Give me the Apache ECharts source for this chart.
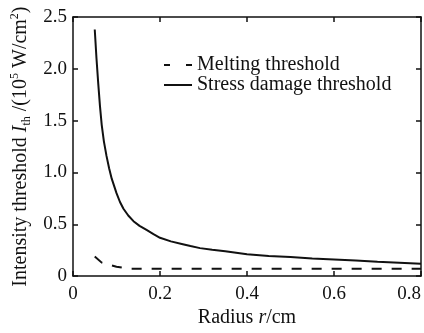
<!DOCTYPE html>
<html>
<head>
<meta charset="utf-8">
<script src="https://cdn.jsdelivr.net/npm/echarts@6/dist/echarts.min.js"></script>
<style>
html,body{margin:0;padding:0;background:#fff;}
#c{width:424px;height:333px;}
</style>
</head>
<body>
<div id="c"></div>
<script>
// Data
var seriesNames = ['Melting threshold', 'Stress damage threshold'];
var meltR = [0.05, 0.066, 0.1, 0.13, 0.2, 0.3, 0.4, 0.5, 0.6, 0.7, 0.8];
var meltI = [0.19, 0.13, 0.09, 0.07, 0.07, 0.07, 0.07, 0.07, 0.07, 0.07, 0.07];
var stressR = [0.05, 0.054, 0.058, 0.062, 0.066, 0.071, 0.077, 0.083, 0.089, 0.1, 0.108, 0.116, 0.127, 0.139, 0.153, 0.169, 0.185, 0.2, 0.225, 0.25, 0.27, 0.292, 0.32, 0.35, 0.4, 0.45, 0.5, 0.55, 0.6, 0.65, 0.7, 0.75, 0.8];
var stressI = [2.38, 2.1, 1.86, 1.64, 1.46, 1.3, 1.16, 1.04, 0.94, 0.8, 0.715, 0.65, 0.585, 0.53, 0.485, 0.445, 0.405, 0.37, 0.335, 0.31, 0.29, 0.27, 0.255, 0.24, 0.21, 0.195, 0.185, 0.17, 0.16, 0.15, 0.138, 0.13, 0.12];
var xTicks = [0, 0.2, 0.4, 0.6, 0.8];
var yTicks = [0, 0.5, 1.0, 1.5, 2.0, 2.5];

function pairs(xs, ys) { return xs.map(function (x, i) { return [x, ys[i]]; }); }
function fmt(v) { return v === 0 ? '0' : v.toFixed(1); }

var FONT = "'Liberation Serif','Times New Roman',serif";
var lineCol = '#111';
var axisLineStyle = { color: lineCol, width: 1.5 };

function xAx(pos, show) {
  return {
    type: 'value', position: pos, min: xTicks[0], max: xTicks[xTicks.length - 1],
    interval: xTicks[1] - xTicks[0],
    axisLine: { show: true, onZero: false, lineStyle: axisLineStyle },
    axisTick: { show: true, inside: true, length: 5, lineStyle: { color: lineCol, width: 1.5 } },
    axisLabel: { show: show, color: '#111', fontFamily: FONT, fontSize: 19, margin: 8,
      formatter: fmt, alignMaxLabel: 'right' },
    splitLine: { show: false }
  };
}
function yAx(pos, show) {
  return {
    type: 'value', position: pos, min: yTicks[0], max: yTicks[yTicks.length - 1],
    interval: yTicks[1] - yTicks[0],
    axisLine: { show: true, onZero: false, lineStyle: axisLineStyle },
    axisTick: { show: true, inside: true, length: 5, lineStyle: { color: lineCol, width: 1.5 } },
    axisLabel: { show: show, color: '#111', fontFamily: FONT, fontSize: 19, margin: 6, formatter: fmt },
    splitLine: { show: false }
  };
}

var xb = xAx('bottom', true);
xb.name = '{n|Radius }{i|r}{n|/cm}';
xb.nameLocation = 'middle';
xb.nameGap = 26;
xb.nameTextStyle = { rich: {
  n: { fontFamily: FONT, fontSize: 20, color: '#111' },
  i: { fontFamily: FONT, fontSize: 20, fontStyle: 'italic', color: '#111' }
} };

var yl = yAx('left', true);
yl.name = '{n|Intensity threshold }{i|I}{sub|th}{n| /(10}{sup|5}{n| W/cm}{sup|2}{n|)}';
yl.nameLocation = 'middle';
yl.nameGap = 40;
yl.nameTextStyle = { rich: {
  n: { fontFamily: FONT, fontSize: 20, color: '#111', lineHeight: 24, verticalAlign: 'middle' },
  i: { fontFamily: FONT, fontSize: 20, fontStyle: 'italic', color: '#111', lineHeight: 24, verticalAlign: 'middle' },
  sub: { fontFamily: FONT, fontSize: 12, color: '#111', verticalAlign: 'bottom', lineHeight: 12 },
  sup: { fontFamily: FONT, fontSize: 12, color: '#111', verticalAlign: 'top', lineHeight: 12 }
} };

var option = {
  animation: false,
  backgroundColor: '#fff',
  grid: { left: 73, right: 3, top: 17, bottom: 44 },
  legend: {
    orient: 'vertical', left: 159, top: 50, itemWidth: 28, itemHeight: 2, itemGap: 0,
    data: [
      { name: seriesNames[0], icon: 'path://M0,0H6V2H0Z M22,0H28V2H22Z' },
      { name: seriesNames[1], icon: 'path://M0,0H28V2H0Z' }
    ],
    textStyle: { fontFamily: FONT, fontSize: 20, color: '#111', lineHeight: 20 }
  },
  xAxis: [xb, xAx('top', false)],
  yAxis: [yl, yAx('right', false)],
  series: [
    { name: seriesNames[0], type: 'line', symbol: 'none', data: pairs(meltR, meltI),
      lineStyle: { color: lineCol, width: 2, type: [10, 10] }, itemStyle: { color: lineCol } },
    { name: seriesNames[1], type: 'line', symbol: 'none', data: pairs(stressR, stressI),
      lineStyle: { color: lineCol, width: 2 }, itemStyle: { color: lineCol } }
  ]
};
echarts.init(document.getElementById('c')).setOption(option);
</script>
</body>
</html>
